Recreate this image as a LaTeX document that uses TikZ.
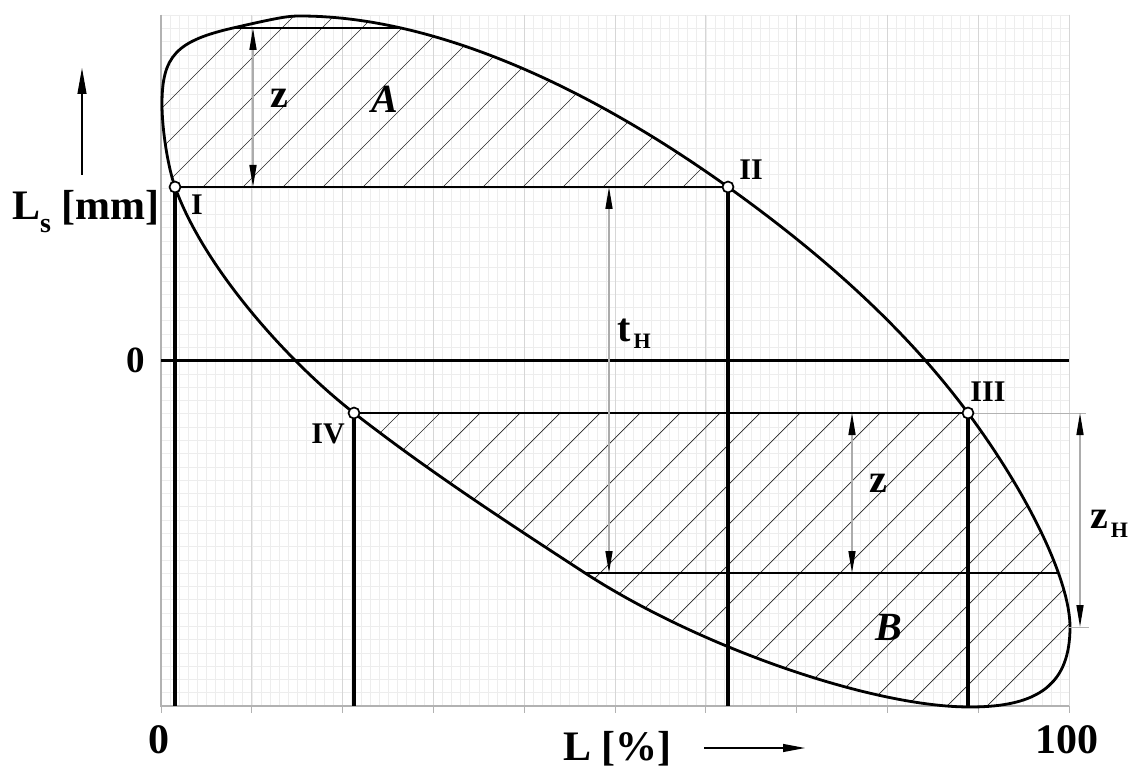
\documentclass[tikz,border=0pt]{standalone}
\usepackage{fontspec}
\setmainfont{Liberation Serif}
\usetikzlibrary{arrows.meta}
\begin{document}
\begin{tikzpicture}[x=1pt,y=-1pt,
  minorgrid/.style={draw=gray!14, line width=0.5pt},
  majorgrid/.style={draw=gray!32, line width=0.7pt},
  axisline/.style={draw=gray!60, line width=1.3pt},
  curveline/.style={line width=2.8pt, black},
  chord/.style={line width=2.8pt, black},
  post/.style={line width=3.2pt, black},
  zeroline/.style={line width=2.4pt, black},
  dimline/.style={draw=gray!65, line width=1.5pt,
    {Triangle[length=22pt,width=7pt,color=black]}-{Triangle[length=22pt,width=7pt,color=black]}},
  extline/.style={draw=gray!60, line width=0.9pt},
  hatchline/.style={line width=0.7pt, black!85},
  ptmark/.style={circle, draw=black, fill=white, line width=1.7pt, inner sep=0pt, minimum size=11pt},
  lbl/.style={font=\fontsize{42}{46}\selectfont\bfseries, inner sep=0pt},
  zlbl/.style={font=\fontsize{40}{44}\selectfont\bfseries, inner sep=0pt},
  arealbl/.style={font=\fontsize{40}{44}\selectfont\bfseries\itshape, inner sep=0pt},
  rom/.style={font=\fontsize{30}{32}\selectfont\bfseries, inner sep=0pt}
]
\useasboundingbox (0,0) rectangle (1133,767);
\fill[white] (0,0) rectangle (1133,767);

% grid
\foreach \k in {0,...,100} \draw[minorgrid] ({161+9.08*\k},15) -- ({161+9.08*\k},706);
\foreach \j in {0,...,52} \draw[minorgrid] (161,{706-13.288*\j}) -- (1069,{706-13.288*\j});
\foreach \k in {1,...,10} \draw[majorgrid] ({161+90.8*\k},15) -- ({161+90.8*\k},706);
\foreach \k in {0,...,10} \draw[axisline, line width=1pt] ({161+90.8*\k},706) -- ({161+90.8*\k},713);
\draw[axisline] (161,15) -- (161,706) -- (1069,706);

% named points
\coordinate (I) at (175,187);
\coordinate (II) at (728,187);
\coordinate (III) at (968,413);
\coordinate (IV) at (354,413);
\coordinate (P0) at (162,104);
\coordinate (Ta) at (233,28);
\coordinate (P1) at (300,16);
\coordinate (P4) at (1070,627);
\coordinate (P5) at (970,707);
\coordinate (Ba) at (585,573);

\def\ellpath{(P0) .. controls (162,56.2) and (176.2,41) .. (Ta)
  .. controls (281.7,16.8) and (289,16) .. (P1)
  .. controls (422.9,16) and (572.7,75.9) .. (II)
  .. controls (817.1,250.8) and (902.5,324.6) .. (III)
  .. controls (1029.2,495.6) and (1070,581.2) .. (P4)
  .. controls (1070,683) and (1040,707) .. (P5)
  .. controls (871.7,707) and (698.4,646.7) .. (Ba)
  .. controls (506.5,521.9) and (427.9,470.6) .. (IV)
  .. controls (286.9,360.7) and (203.6,267.1) .. (I)
  .. controls (167.9,167) and (162,129.6) .. (P0) -- cycle}

% hatching A
\begin{scope}
  \clip \ellpath;
  \clip (0,0) rectangle (1133,187);
  \foreach \c in {190,230,...,1070} \draw[hatchline] (\c,0) -- ++(-1000,1000);
\end{scope}
% hatching B
\begin{scope}
  \clip \ellpath;
  \clip (0,413) rectangle (1133,767);
  \foreach \c in {733,773,...,1853} \draw[hatchline] (\c,0) -- ++(-1900,1900);
\end{scope}

\coordinate (bot) at (0,706);
\coordinate (Tb) at (401,28);
\coordinate (Bb) at (1059,573);
\coordinate (Z0) at (161,360.5);
\coordinate (Z1) at (1069,360.5);

% zero line
\draw[zeroline] (Z0) -- (Z1);

% curve
\draw[curveline, line join=round] \ellpath;

% chords
\draw[chord] (Ta) -- (Tb);
\draw[chord] (I) -- (II);
\draw[chord] (IV) -- (III);
\draw[chord] (Ba) -- (Bb);

% posts
\draw[post] (I) -- (I |- bot);
\draw[post] (II) -- (II |- bot);
\draw[post] (IV) -- (IV |- bot);
\draw[post] (III) -- (III |- bot);

% extension lines
\coordinate (e1) at (1086,413);
\coordinate (e2a) at (1068,627);
\coordinate (e2b) at (1089,627);
\draw[extline] (III) -- (e1);
\draw[extline] (e2a) -- (e2b);

% dimension lines
\coordinate (zA1) at (253,28);  \coordinate (zA2) at (253,187);
\coordinate (t1) at (609,187);  \coordinate (t2) at (609,573);
\coordinate (zB1) at (852,413); \coordinate (zB2) at (852,573);
\coordinate (zH1) at (1080,413); \coordinate (zH2) at (1080,627);
\draw[dimline] (zA1) -- (zA2);
\draw[dimline] (t1) -- (t2);
\draw[dimline] (zB1) -- (zB2);
\draw[dimline] (zH1) -- (zH2);

% points
\node[ptmark] (pI) at (I) {};
\node[ptmark] (pII) at (II) {};
\node[ptmark] (pIII) at (III) {};
\node[ptmark] (pIV) at (IV) {};

% roman labels
\node[rom, anchor=base] (lI) at (197,215) {I};
\node[rom, anchor=base] (lII) at (751,180) {II};
\node[rom, anchor=base] (lIII) at (988,402) {III};
\node[rom, anchor=base] (lIV) at (328,443) {IV};

% dimension labels
\node[zlbl, anchor=base] (lz1) at (279,108) {z};
\node[zlbl, anchor=base] (lz2) at (878,492) {z};
\node[zlbl, anchor=base west] (ltH) at (617,342) {t\kern3pt\raisebox{-6pt}{\fontsize{22}{22}\selectfont H}};
\node[zlbl, anchor=base west] (lzH) at (1090,528) {z\kern3pt\raisebox{-9pt}{\fontsize{22}{22}\selectfont H}};
\node[arealbl, anchor=base] (lA) at (385,113) {A};
\node[arealbl, anchor=base] (lB) at (889,640) {B};

% axis labels
\node[lbl, anchor=base west] (lLs) at (12,220) {L\raisebox{-13pt}{\fontsize{28}{28}\selectfont s} [mm]};
\node[lbl, anchor=base, font=\fontsize{37}{40}\selectfont\bfseries] (l0y) at (136,373) {0};
\node[lbl, anchor=base] (l0x) at (159,753) {0};
\node[lbl, anchor=base] (l100) at (1067,753) {100};
\node[lbl, anchor=base west] (lL) at (563,760) {L [\%]};

% axis arrows
\coordinate (ya1) at (82,175); \coordinate (ya2) at (82,68);
\coordinate (xa1) at (704,748); \coordinate (xa2) at (805,748);
\draw[line width=1.1pt, -{Triangle[length=26pt,width=9pt]}] (ya1) -- (ya2);
\draw[line width=1.1pt, -{Triangle[length=22pt,width=8pt]}] (xa1) -- (xa2);
\end{tikzpicture}
\end{document}
